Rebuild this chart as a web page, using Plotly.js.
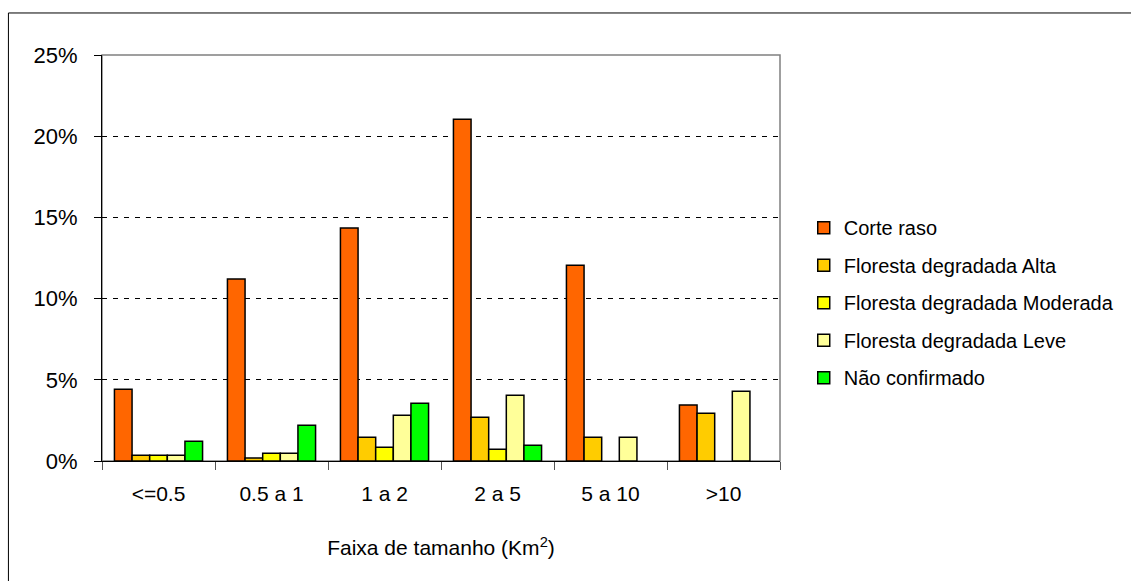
<!DOCTYPE html>
<html>
<head>
<meta charset="utf-8">
<script src="https://cdn.plot.ly/plotly-3.0.1.min.js"></script>
<style>
  html, body { margin: 0; padding: 0; background: #fff; }
  #chart { width: 1131px; height: 581px; }
</style>
</head>
<body>
<div id="chart"></div>
<script>
// Categories (size classes, km²)
const categories = ["<=0.5", "0.5 a 1", "1 a 2", "2 a 5", "5 a 10", ">10"];

// Series values (% of total); null = no bar drawn
const corteRaso         = [4.42, 11.2, 14.35, 21.05, 12.05, 3.45];
const florestaAlta      = [0.35, 0.18, 1.46, 2.69, 1.46, 2.94];
const florestaModerada  = [0.35, 0.47, 0.84, 0.72, null, null];
const florestaLeve      = [0.35, 0.47, 2.82, 4.05, 1.46, 4.29];
const naoConfirmado     = [1.21, 2.2, 3.56, 0.97, null, null];

const seriesNames  = ["Corte raso", "Floresta degradada Alta", "Floresta degradada Moderada", "Floresta degradada Leve", "Não confirmado"];
const seriesValues = [corteRaso, florestaAlta, florestaModerada, florestaLeve, naoConfirmado];
const seriesColors = ["#FF6600", "#FFCC00", "#FFFF00", "#FFFF99", "#00FF00"];

const yTickVals   = [0, 5, 10, 15, 20, 25];
const yTickLabels = ["0%", "5%", "10%", "15%", "20%", "25%"];

const FONT = '"Liberation Sans", Arial, sans-serif';

const traces = seriesNames.map((name, i) => ({
  type: 'bar',
  name: name,
  x: categories,
  y: seriesValues[i],
  legendgroup: 'g' + i,
  marker: { color: seriesColors[i], line: { color: '#000', width: 1.5 } },
  hoverinfo: 'x+y+name'
}));

const layout = {
  width: 1131,
  height: 581,
  margin: { l: 102, r: 344, t: 55, b: 120 },
  paper_bgcolor: '#fff',
  plot_bgcolor: '#fff',
  font: { family: FONT, color: '#000', size: 20 },
  barmode: 'group',
  bargap: 0.22,
  bargroupgap: 0,
  showlegend: true,
  legend: {
    x: 1.035, xanchor: 'left',
    y: 0.39, yanchor: 'middle',
    font: { family: FONT, size: 20, color: '#000' },
    traceorder: 'grouped',
    tracegroupgap: 8.5,
    bgcolor: 'rgba(0,0,0,0)'
  },
  xaxis: {
    type: 'category',
    range: [-0.5, 5.5],
    showline: true, linecolor: '#000', linewidth: 1,
    ticks: 'outside', tickson: 'boundaries', ticklen: 8, tickcolor: '#555', tickwidth: 1,
    ticklabelstandoff: 14,
    tickfont: { family: FONT, size: 21, color: '#000' },
    showgrid: false,
    zeroline: false,
    title: { text: 'Faixa de tamanho (Km<sup>2</sup>)', font: { family: FONT, size: 21, color: '#000' }, standoff: 36 }
  },
  yaxis: {
    range: [0, 25],
    tickmode: 'array',
    tickvals: yTickVals,
    ticktext: yTickLabels,
    showline: true, linecolor: '#000', linewidth: 1,
    ticks: 'outside', ticklen: 7, tickcolor: '#000', tickwidth: 1,
    ticklabelstandoff: 12,
    tickfont: { family: FONT, size: 22, color: '#000' },
    showgrid: true, gridcolor: '#000', gridwidth: 1, griddash: '5px,6px',
    zeroline: false
  },
  shapes: [
    // plot area border (gray)
    { type: 'rect', xref: 'paper', yref: 'paper', x0: 0, x1: 1, y0: 0, y1: 1,
      line: { color: '#808080', width: 1.5 }, layer: 'below' },
    // outer chart border (left and top edges visible)
    { type: 'line', xref: 'paper', yref: 'paper', x0: -0.138, x1: -0.138, y0: -0.5, y1: 1.1035,
      line: { color: '#000', width: 1 } },
    { type: 'line', xref: 'paper', yref: 'paper', x0: -0.138, x1: 1.7, y0: 1.1035, y1: 1.1035,
      line: { color: '#000', width: 1 } }
  ]
};

Plotly.newPlot('chart', traces, layout, { displayModeBar: false, staticPlot: true });
</script>
</body>
</html>
